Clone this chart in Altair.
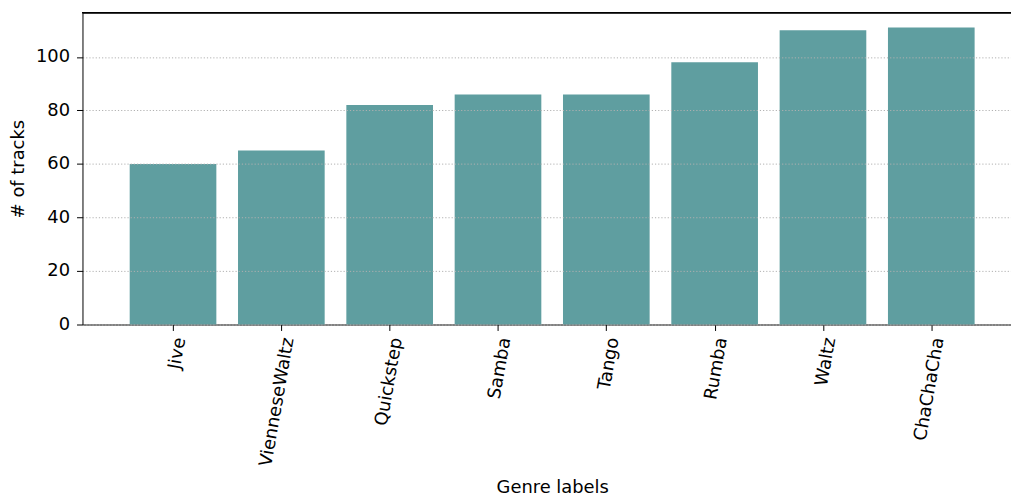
import json
import altair as alt
import pandas as pd

genres = ["Jive", "VienneseWaltz", "Quickstep", "Samba", "Tango", "Rumba", "Waltz", "ChaChaCha"]
counts = [60, 65, 82, 86, 86, 98, 110, 111]
y_ticks = [0, 20, 40, 60, 80, 100]

df = pd.DataFrame({"genre": genres, "count": counts, "idx": list(range(len(genres)))})

W, H = 935, 314
FONT = "DejaVu Sans"
FS = 18
BAR_W = 0.8
label_expr = json.dumps(genres) + "[round(datum.value)]"

bars = alt.Chart(df).transform_calculate(
    lo=f"datum.idx - {BAR_W / 2}",
    hi=f"datum.idx + {BAR_W / 2}",
).mark_bar(color="#5F9EA0", orient="vertical").encode(
    x=alt.X(
        "lo:Q",
        scale=alt.Scale(domain=[-0.79, 7.69], nice=False, zero=False),
        axis=alt.Axis(
            title="Genre labels",
            values=list(range(len(genres))),
            labelExpr=label_expr,
            labelAngle=280,
            labelAlign="right",
            labelBaseline="middle",
            labelPadding=7,
            labelOffset=7,
            labelFont=FONT,
            labelFontSize=FS,
            labelColor="black",
            labelFlush=False,
            labelOverlap=False,
            tickSize=6,
            tickColor="black",
            domainColor="black",
            titleFont=FONT,
            titleFontSize=FS,
            titleFontWeight="normal",
            titleColor="black",
            titleX=473,
            titleY=164,
            titleAlign="center",
            titleBaseline="middle",
            grid=False,
        ),
    ),
    x2="hi:Q",
    y=alt.Y(
        "count:Q",
        scale=alt.Scale(domain=[0, 116.55], nice=False),
        axis=alt.Axis(
            title="# of tracks",
            values=y_ticks,
            labelFont=FONT,
            labelFontSize=FS,
            labelColor="black",
            labelPadding=7,
            tickSize=6,
            tickColor="black",
            domainColor="black",
            titleFont=FONT,
            titleFontSize=FS,
            titleFontWeight="normal",
            titleColor="black",
            titleAngle=270,
            titleX=-64,
            titleY=157,
            titleAlign="center",
            titleBaseline="middle",
            grid=True,
            gridColor="#b0b0b0",
            gridDash=[1.2, 2],
            gridWidth=1,
            zindex=1,
        ),
    ),
    y2=alt.datum(0),
)

top = alt.Chart(df).mark_rule(color="black", strokeWidth=1).encode(
    x=alt.value(0), x2=alt.value(W), y=alt.value(0)
)

chart = alt.layer(bars, top).properties(
    width=W,
    height=H,
    autosize=alt.AutoSizeParams(type="none"),
    padding={"left": 75, "top": 3, "right": 0, "bottom": 174},
).configure_view(stroke=None)

chart.save("out.html", embed_options={"renderer": "svg", "actions": False})
